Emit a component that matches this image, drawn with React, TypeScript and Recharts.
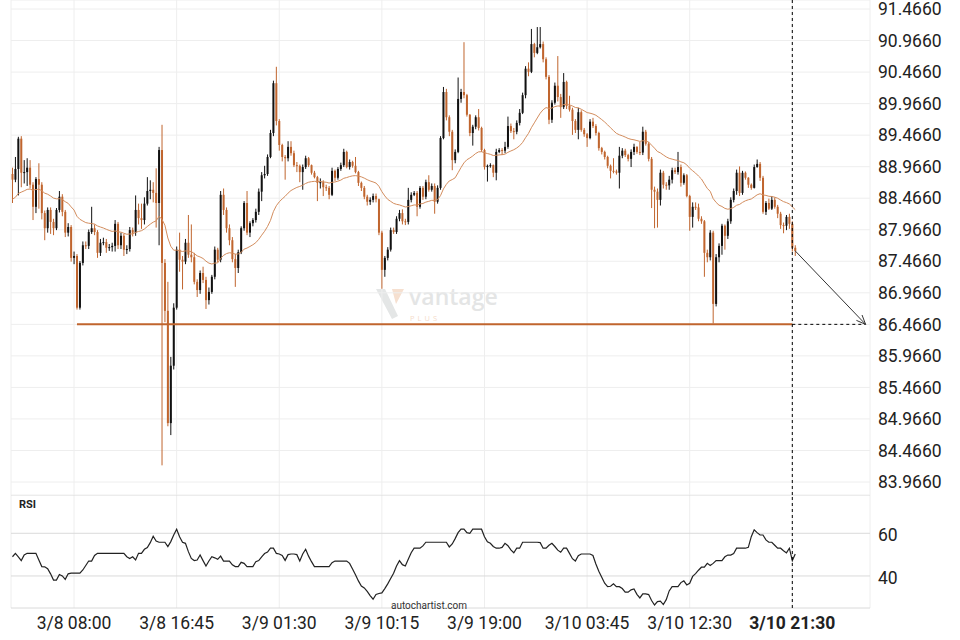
import React from 'react';
import { ComposedChart, Bar, Line, XAxis, YAxis, CartesianGrid, ReferenceLine } from 'recharts';

// 15-minute candles (open = previous close)
const firstOpen = 88.85;
const closes = [
  88.76, 88.93, 89.41, 88.87, 88.88, 88.95, 88.68, 88.33, 88.77, 88.68,
  88.23, 87.99, 88.28, 88.09, 87.99, 88.28, 88.49, 88.25, 87.92, 88.01,
  87.52, 87.55, 86.73, 87.44, 87.72, 87.71, 87.93, 87.99, 87.93, 87.60,
  87.76, 87.77, 87.68, 87.69, 87.71, 88.06, 87.72, 87.87, 87.65, 87.66,
  87.96, 87.92, 88.28, 88.15, 88.12, 88.38, 88.58, 88.60, 88.55, 88.39,
  89.23, 87.44, 86.68, 84.90, 85.81, 86.73, 87.65, 87.49, 87.46, 87.76,
  87.57, 87.53, 87.14, 87.01, 87.28, 87.17, 86.85, 86.98, 87.22, 87.65,
  87.49, 88.52, 88.28, 87.99, 87.80, 87.50, 87.36, 87.61, 87.99, 88.39,
  87.92, 88.07, 88.12, 88.25, 88.57, 88.83, 88.85, 89.12, 89.50, 90.29,
  89.69, 89.31, 89.12, 89.10, 89.28, 89.18, 88.99, 88.98, 88.88, 88.96,
  89.10, 88.99, 88.87, 88.80, 88.71, 88.72, 88.64, 88.63, 88.52, 88.90,
  88.79, 88.93, 88.99, 89.20, 88.96, 89.04, 88.98, 88.88, 88.71, 88.63,
  88.49, 88.41, 88.44, 88.50, 88.45, 87.92, 87.33, 87.52, 87.65, 87.96,
  87.93, 88.14, 88.23, 88.10, 88.09, 88.44, 88.52, 88.55, 88.33, 88.63,
  88.49, 88.72, 88.60, 88.66, 88.41, 88.63, 89.42, 90.15, 89.75, 89.52,
  89.07, 89.20, 90.04, 90.15, 90.10, 89.79, 89.50, 89.60, 89.75, 89.58,
  89.23, 88.96, 88.98, 88.99, 88.87, 89.20, 89.23, 89.22, 89.28, 89.61,
  89.53, 89.52, 89.66, 89.82, 90.10, 90.52, 90.47, 90.91, 90.77, 90.86,
  90.91, 90.67, 90.39, 89.71, 89.98, 90.25, 90.07, 89.91, 90.31, 89.93,
  89.87, 89.69, 89.55, 89.83, 89.55, 89.48, 89.42, 89.68, 89.61, 89.50,
  89.26, 89.20, 89.12, 88.98, 88.90, 88.89, 88.87, 89.14, 89.22, 89.15,
  89.09, 89.20, 89.28, 89.20, 89.19, 89.52, 89.33, 89.09, 88.60, 88.57,
  88.44, 88.87, 88.68, 88.67, 88.76, 88.91, 88.88, 88.96, 88.71, 88.83,
  88.50, 88.17, 88.33, 88.32, 88.14, 88.10, 87.60, 87.53, 87.92, 86.79,
  87.53, 87.71, 88.03, 87.87, 88.10, 88.44, 88.58, 88.87, 88.55, 88.87,
  88.79, 88.68, 88.63, 88.96, 89.01, 88.79, 88.25, 88.39, 88.30, 88.44,
  88.33, 88.22, 88.04, 88.03, 88.17, 88.06, 87.68, 87.63,
];
const highs = [
  88.95, 89.12, 89.44, 89.45, 89.07, 89.10, 89.07, 88.72, 88.80, 89.02,
  88.72, 88.27, 88.32, 88.32, 88.14, 88.31, 88.58, 88.53, 88.28, 88.07,
  88.04, 87.62, 87.58, 87.47, 87.78, 87.78, 87.97, 88.33, 88.05, 87.96,
  87.82, 87.84, 87.82, 87.74, 87.76, 88.12, 88.09, 87.92, 87.90, 87.72,
  88.01, 88.00, 88.51, 88.38, 88.38, 88.48, 88.80, 88.75, 88.72, 88.94,
  89.28, 89.63, 87.50, 87.14, 85.95, 86.80, 87.70, 87.92, 87.55, 87.82,
  88.20, 88.05, 87.60, 87.18, 87.32, 87.38, 87.22, 87.05, 87.25, 87.70,
  87.68, 88.58, 88.62, 88.32, 88.05, 87.85, 87.58, 87.65, 88.02, 88.42,
  88.58, 88.10, 88.15, 88.30, 88.62, 88.88, 88.98, 89.16, 89.55, 90.33,
  90.55, 89.72, 89.33, 89.15, 89.37, 89.37, 89.22, 89.04, 89.00, 89.00,
  89.14, 89.12, 89.00, 88.90, 88.82, 88.78, 88.75, 88.68, 88.66, 88.95,
  88.92, 88.96, 89.03, 89.25, 89.22, 89.08, 89.06, 89.12, 88.90, 88.73,
  88.66, 88.52, 88.48, 88.54, 88.54, 88.46, 87.95, 87.55, 87.69, 88.00,
  88.00, 88.18, 88.28, 88.29, 88.14, 88.63, 88.56, 88.58, 88.58, 88.66,
  88.66, 88.76, 88.83, 88.70, 88.70, 88.67, 89.45, 90.23, 90.20, 89.78,
  89.55, 89.24, 90.38, 90.20, 90.94, 90.12, 89.80, 89.63, 89.78, 89.88,
  89.60, 89.25, 89.00, 89.02, 89.00, 89.25, 89.26, 89.26, 89.36, 89.76,
  89.65, 89.58, 89.70, 89.88, 90.14, 90.56, 90.62, 91.15, 90.93, 91.18,
  91.18, 90.95, 90.70, 90.42, 90.02, 90.30, 90.72, 90.12, 90.45, 90.33,
  90.09, 89.90, 89.72, 89.90, 89.86, 89.58, 89.50, 89.72, 89.74, 89.64,
  89.52, 89.28, 89.22, 89.14, 89.00, 89.10, 88.92, 89.28, 89.26, 89.25,
  89.17, 89.24, 89.33, 89.29, 89.36, 89.60, 89.55, 89.36, 89.12, 88.65,
  88.62, 88.92, 88.90, 88.72, 88.82, 88.95, 88.95, 89.20, 89.00, 88.86,
  88.85, 88.52, 88.40, 88.40, 88.38, 88.18, 88.12, 87.65, 87.96, 87.95,
  87.58, 87.75, 88.06, 88.05, 88.14, 88.48, 88.62, 88.92, 88.97, 88.90,
  88.89, 88.80, 88.70, 89.00, 89.08, 89.04, 88.82, 88.42, 88.46, 88.50,
  88.48, 88.36, 88.25, 88.08, 88.20, 88.22, 88.10, 87.72,
];
const lows = [
  88.39, 88.72, 88.51, 88.64, 88.70, 88.66, 88.62, 88.12, 88.23, 88.30,
  88.13, 87.80, 87.92, 87.90, 87.88, 87.96, 88.24, 88.18, 87.85, 87.86,
  87.46, 87.42, 86.70, 86.70, 87.40, 87.66, 87.66, 87.90, 87.88, 87.52,
  87.55, 87.72, 87.60, 87.63, 87.62, 87.62, 87.66, 87.66, 87.55, 87.58,
  87.62, 87.86, 87.87, 88.05, 87.98, 88.05, 88.35, 88.45, 88.40, 88.00,
  87.72, 84.23, 86.50, 84.85, 84.71, 85.75, 86.70, 87.30, 87.02, 87.42,
  87.52, 87.45, 87.10, 86.90, 86.95, 87.12, 86.71, 86.78, 86.95, 87.18,
  87.45, 87.45, 88.20, 87.92, 87.72, 87.45, 87.06, 87.28, 87.58, 87.95,
  87.88, 87.85, 88.02, 88.08, 88.20, 88.42, 88.78, 88.82, 89.10, 89.45,
  89.62, 89.22, 89.05, 88.76, 89.05, 89.14, 88.96, 88.88, 88.72, 88.60,
  88.93, 88.96, 88.84, 88.78, 88.42, 88.62, 88.50, 88.58, 88.45, 88.50,
  88.74, 88.76, 88.90, 88.96, 88.94, 88.92, 88.95, 88.86, 88.66, 88.58,
  88.45, 88.35, 88.36, 88.40, 88.40, 87.88, 87.03, 87.22, 87.48, 87.62,
  87.90, 87.90, 88.10, 88.05, 88.04, 88.05, 88.40, 88.50, 88.18, 88.30,
  88.44, 88.45, 88.57, 88.57, 88.22, 88.38, 88.60, 89.40, 89.70, 89.45,
  88.91, 89.02, 89.18, 89.98, 90.05, 89.76, 89.45, 89.30, 89.56, 89.54,
  89.20, 88.92, 88.73, 88.95, 88.80, 88.75, 89.18, 89.15, 89.18, 89.25,
  89.50, 89.40, 89.48, 89.62, 89.80, 90.05, 90.40, 90.45, 90.70, 90.75,
  90.84, 90.62, 90.35, 89.64, 89.66, 89.95, 90.00, 89.74, 89.88, 89.88,
  89.84, 89.47, 89.50, 89.40, 89.52, 89.44, 89.28, 89.40, 89.58, 89.46,
  89.22, 89.16, 89.08, 88.94, 88.78, 88.86, 88.84, 88.62, 89.10, 89.12,
  89.05, 88.96, 89.15, 89.17, 89.15, 89.15, 89.30, 89.05, 88.31, 87.99,
  88.00, 88.35, 88.62, 88.60, 88.60, 88.70, 88.85, 88.84, 88.65, 88.68,
  88.48, 87.95, 88.00, 88.28, 88.10, 88.06, 87.22, 87.45, 87.48, 86.48,
  86.75, 87.45, 87.57, 87.65, 87.82, 88.06, 88.40, 88.52, 88.50, 88.52,
  88.76, 88.63, 88.60, 88.62, 88.95, 88.74, 88.22, 88.20, 88.28, 88.28,
  88.30, 88.15, 87.98, 87.91, 87.96, 87.98, 87.62, 87.55,
];
const rsiValues = [
  49.0, 50.6, 49.0, 47.2, 49.8, 50.6, 50.6, 50.6, 50.6, 47.5,
  44.4, 44.3, 43.4, 41.0, 38.1, 38.1, 40.7, 40.0, 38.4, 41.0,
  41.3, 41.3, 41.3, 41.3, 42.8, 44.9, 47.0, 47.0, 49.6, 50.6,
  50.6, 50.6, 50.6, 50.6, 50.6, 50.6, 50.6, 50.6, 50.6, 49.0,
  48.2, 49.0, 47.5, 50.6, 50.6, 52.5, 53.3, 55.6, 58.6, 56.4,
  55.8, 55.8, 55.8, 53.8, 56.1, 59.2, 61.9, 58.4, 55.8, 55.3,
  51.4, 48.2, 47.2, 47.5, 49.8, 47.2, 44.7, 47.0, 49.0, 48.5,
  47.8, 49.3, 47.0, 47.0, 47.0, 45.2, 44.4, 44.4, 46.4, 45.9,
  44.4, 44.4, 44.4, 46.7, 47.2, 49.0, 50.5, 51.2, 53.0, 53.0,
  50.6, 50.3, 49.6, 47.3, 50.0, 50.3, 50.3, 50.0, 47.0, 50.3,
  52.5, 49.3, 46.7, 44.4, 44.4, 44.4, 44.4, 44.4, 44.4, 46.2,
  47.0, 47.0, 47.0, 47.0, 47.0, 45.9, 43.3, 40.6, 37.7, 35.3,
  34.4, 32.8, 30.8, 29.1, 31.3, 31.8, 32.1, 34.1, 36.3, 38.8,
  41.3, 44.7, 47.2, 45.3, 44.7, 47.8, 50.9, 53.0, 53.0, 53.0,
  54.1, 55.8, 55.8, 55.8, 55.8, 55.8, 55.8, 55.8, 55.8, 53.6,
  55.0, 57.5, 60.3, 61.9, 61.9, 60.3, 60.0, 61.9, 61.9, 61.9,
  61.9, 58.4, 56.0, 55.3, 53.8, 53.0, 53.0, 53.4, 55.3, 54.2,
  52.2, 50.9, 53.0, 53.0, 55.8, 55.8, 55.8, 55.8, 55.8, 55.8,
  55.6, 53.0, 53.0, 54.4, 55.3, 53.8, 52.1, 51.1, 53.0, 53.0,
  50.6, 48.1, 47.0, 49.5, 50.3, 50.3, 50.3, 50.3, 49.6, 45.6,
  42.2, 39.4, 36.6, 35.0, 35.2, 36.3, 35.0, 35.0, 34.1, 32.4,
  32.4, 33.5, 33.9, 31.4, 29.7, 31.6, 31.6, 31.3, 28.5, 26.4,
  28.0, 28.2, 26.6, 28.9, 33.0, 35.0, 35.0, 35.0, 36.9, 37.7,
  35.8, 36.6, 39.8, 41.1, 42.7, 44.1, 44.1, 45.9, 44.9, 45.9,
  47.2, 47.2, 47.2, 49.0, 49.8, 49.8, 50.5, 53.0, 53.0, 53.0,
  53.0, 53.4, 58.4, 61.6, 60.3, 59.2, 59.2, 56.9, 55.8, 55.8,
  54.4, 53.0, 53.0, 51.8, 50.8, 53.0, 47.2, 50.3,
];

const tickIndex = [21, 56, 91, 126, 161, 196, 231, 266];
const tickLabels = ['3/8 08:00', '3/8 16:45', '3/9 01:30', '3/9 10:15', '3/9 19:00', '3/10 03:45', '3/10 12:30', '3/10 21:30'];
const priceTicks = [83.966, 84.466, 84.966, 85.466, 85.966, 86.466, 86.966, 87.466, 87.966, 88.466, 88.966, 89.466, 89.966, 90.466, 90.966, 91.466];
const rsiTicks = [40, 60];
const supportLevel = 86.466;
const supportStart = 22;
const nowIndex = 266;
const targetIndex = 291;
const futureSlots = 25;
// moving average: exponential, 30 periods, starting from the value shown at the first candle
const maPeriod = 30;
const maSeed = 88.45;

const UP = '#111111';
const DOWN = '#c0652e';
const FONT = 'Roboto, sans-serif';

const alpha = 2 / (maPeriod + 1);
const maValues: number[] = [];
closes.forEach((c, i) => {
  maValues.push(i === 0 ? maSeed : maValues[i - 1] + alpha * (c - maValues[i - 1]));
});

const data = Array.from({ length: closes.length + futureSlots }, (_, i) => {
  if (i >= closes.length) return { i };
  return {
    i,
    o: i === 0 ? firstOpen : closes[i - 1],
    h: highs[i],
    l: lows[i],
    c: closes[i],
    ma: maValues[i],
    rsi: rsiValues[i],
  };
});

const Candle = (props: any) => {
  const { x, y, width, height, payload } = props;
  if (!payload || payload.c == null) return null;
  const { o, h, l, c } = payload;
  const top = Math.min(y, y + height);
  const hgt = Math.abs(height);
  const k = hgt / Math.max(h - l, 1e-6);
  const py = (v: number) => top + (h - v) * k;
  const cx = x + width / 2;
  const color = c >= o ? UP : DOWN;
  const bTop = py(Math.max(o, c));
  const bBot = py(Math.min(o, c));
  return (
    <g>
      <line x1={cx} x2={cx} y1={top} y2={top + hgt} stroke={color} strokeWidth={1} />
      <rect x={cx - 1} y={bTop} width={2} height={Math.max(bBot - bTop, 1)} fill={color} />
    </g>
  );
};

const Arrow = (p: any) => {
  const { x1, y1, x2, y2 } = p;
  const ang = Math.atan2(y2 - y1, x2 - x1);
  const len = 10;
  const s = 0.4;
  const ax = x2 - len * Math.cos(ang - s);
  const ay = y2 - len * Math.sin(ang - s);
  const bx = x2 - len * Math.cos(ang + s);
  const by = y2 - len * Math.sin(ang + s);
  return (
    <g>
      <line x1={x1} y1={y1} x2={x2} y2={y2} stroke="#333" strokeWidth={1} />
      <path d={`M${ax},${ay} L${x2},${y2} L${bx},${by}`} fill="none" stroke="#333" strokeWidth={1} />
    </g>
  );
};

const XTick = (props: any) => {
  const { x, y, payload } = props;
  const idx = tickIndex.indexOf(payload.value);
  return (
    <text x={x} y={y} dy="0.71em" textAnchor="middle" fill="#222" fontSize={17.5} fontFamily={FONT}
      fontWeight={payload.value === nowIndex ? 700 : 400}>
      {tickLabels[idx]}
    </text>
  );
};

const RsiTick = (props: any) => {
  const { x, y, payload } = props;
  return (
    <text x={x} y={y + 2} dy="0.355em" textAnchor="start" fill="#222" fontSize={17.5} fontFamily={FONT}>
      {payload.value}
    </text>
  );
};

const yTick = { fill: '#222', fontSize: 17.5, fontFamily: FONT };

export default function App() {
  return (
    <div style={{ position: 'absolute', left: 0, top: 0, width: 960, height: 640, background: '#fff', overflow: 'hidden' }}>
      <svg width={960} height={640} style={{ position: 'absolute', left: 0, top: 0 }}>
        <polygon points="376,289 385,289 398,316 392,319" fill="#e4e6e6" />
        <polygon points="392,289 404,289 396,304" fill="#f6e0d0" />
        <text x={409} y={305} fontSize={23} fontFamily="'Open Sans', sans-serif" fill="#e4e5e5" fontWeight={600}>vantage</text>
        <text x={410} y={321} fontSize={7.5} fontFamily="'Open Sans', sans-serif" fill="#f5dccb" letterSpacing={3}>PLUS</text>
      </svg>
      <div style={{ position: 'absolute', left: 0, top: 0 }}>
        <ComposedChart width={960} height={495} data={data} margin={{ top: 0, right: 0, bottom: 0, left: 11 }} barCategoryGap={0}>
          <CartesianGrid stroke="#eeeeee" />
          <XAxis dataKey="i" type="category" scale="band" hide ticks={tickIndex} interval={0} />
          <YAxis orientation="right" type="number" width={90} domain={[83.76, 91.609]} allowDataOverflow
            ticks={priceTicks} interval={0} tickFormatter={(v: number) => v.toFixed(4)}
            axisLine={false} tickLine={false} tickSize={0} tickMargin={8} tick={yTick} />
          <ReferenceLine segment={[{ x: supportStart, y: supportLevel }, { x: nowIndex, y: supportLevel }]}
            stroke={DOWN} strokeWidth={2} />
          <ReferenceLine segment={[{ x: nowIndex, y: supportLevel }, { x: targetIndex, y: supportLevel }]}
            stroke="#000" strokeDasharray="3 3" />
          <Bar dataKey={(d: any) => (d.c == null ? null : [d.l, d.h])} shape={(p: any) => <Candle {...p} />}
            isAnimationActive={false} />
          <Line dataKey="ma" stroke="#d38d5e" strokeWidth={1} dot={false} activeDot={false} isAnimationActive={false} />
          <ReferenceLine x={nowIndex} stroke="#000" strokeDasharray="3 3" />
          <ReferenceLine segment={[{ x: closes.length - 1, y: closes[closes.length - 1] }, { x: targetIndex, y: supportLevel }]}
            shape={(p: any) => <Arrow {...p} />} />
        </ComposedChart>
      </div>
      <div style={{ position: 'absolute', left: 0, top: 495 }}>
        <ComposedChart width={960} height={145} data={data} margin={{ top: 0, right: 0, bottom: 0, left: 11 }}>
          <CartesianGrid stroke="#eeeeee" horizontal={false} />
          <CartesianGrid stroke="#dadada" vertical={false} />
          <XAxis dataKey="i" type="category" scale="band" ticks={tickIndex} interval={0} height={32}
            axisLine={false} tickLine={false} tickSize={0} tickMargin={9} tick={(p: any) => <XTick {...p} />} />
          <YAxis orientation="right" type="number" width={90} domain={[25, 77.93]} allowDataOverflow
            ticks={rsiTicks} interval={0} axisLine={false} tickLine={false} tickSize={0} tickMargin={8}
            tick={(p: any) => <RsiTick {...p} />} />
          <Line dataKey="rsi" stroke="#222" strokeWidth={1.2} dot={false} activeDot={false} isAnimationActive={false} />
          <ReferenceLine x={nowIndex} stroke="#000" strokeDasharray="3 3" />
        </ComposedChart>
      </div>
      <svg width={960} height={640} style={{ position: 'absolute', left: 0, top: 0, pointerEvents: 'none' }}>
        <text x={19} y={508} fontSize={11} fontWeight={700} fontFamily={FONT} fill="#222">RSI</text>
        <text x={429} y={609} fontSize={10} fontFamily={FONT} fill="#333" textAnchor="middle">autochartist.com</text>
      </svg>
    </div>
  );
}
